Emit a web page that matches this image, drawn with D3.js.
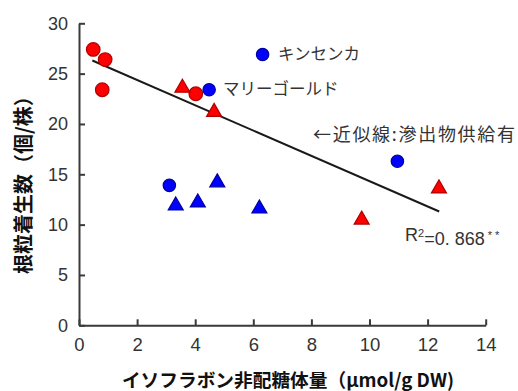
<!DOCTYPE html>
<html lang="ja">
<head>
<meta charset="UTF-8">
<script src="https://d3js.org/d3.v7.min.js"></script>
<style>
  body { margin: 0; background: #fff; }
  .axis path, .axis line { stroke: #3a3a3a; stroke-width: 2px; }
  .axis text { font-family: "Liberation Sans", Arial, sans-serif; fill: #333; }
  .note { font-family: "Noto Sans CJK JP", sans-serif; fill: #333; }
  .title { font-family: "Noto Sans CJK JP", sans-serif; font-weight: bold; fill: #111; }
</style>
</head>
<body>
<svg width="518" height="391"></svg>
<script>
  // values
  var xTicks = [0, 2, 4, 6, 8, 10, 12, 14];
  var yTicks = [0, 5, 10, 15, 20, 25, 30];

  var redCircleX = [0.49, 0.90, 0.80, 4.02];
  var redCircleY = [27.4, 26.4, 23.4, 23.0];

  var redTriX = [3.56, 4.65, 9.73, 12.39];
  var redTriY = [23.8, 21.4, 10.7, 13.8];

  var blueCircleX = [4.48, 6.32, 10.96, 3.11];
  var blueCircleY = [23.4, 26.9, 16.3, 13.9];

  var blueTriX = [3.33, 4.09, 4.76, 6.21];
  var blueTriY = [12.1, 12.4, 14.4, 11.8];

  // fitted line (exudate supplied)
  var fitSlope = -1.256;
  var fitIntercept = 26.88;
  var fitRange = [0.46, 12.4];

  var svg = d3.select("svg");

  var x = d3.scaleLinear().domain([0, 14]).range([79, 485.7]);
  var y = d3.scaleLinear().domain([0, 30]).range([325.3, 23.3]);

  var xAxis = svg.append("g")
    .attr("class", "axis")
    .attr("transform", "translate(0," + y(0) + ")")
    .call(d3.axisBottom(x).tickValues(xTicks).tickSizeInner(-6).tickSizeOuter(0).tickPadding(13));
  xAxis.selectAll("text").style("font-size", "18.5px");

  var yAxis = svg.append("g")
    .attr("class", "axis")
    .attr("transform", "translate(" + x(0) + ",0)")
    .call(d3.axisLeft(y).tickValues(yTicks).tickSizeInner(-6).tickSizeOuter(0).tickPadding(11));
  yAxis.selectAll("text").style("font-size", "18px");

  // regression line
  svg.append("line")
    .attr("x1", x(fitRange[0]))
    .attr("y1", y(fitIntercept + fitSlope * fitRange[0]))
    .attr("x2", x(fitRange[1]))
    .attr("y2", y(fitIntercept + fitSlope * fitRange[1]))
    .attr("stroke", "#1a1a1a")
    .attr("stroke-width", 2);

  function pairs(xs, ys) {
    return xs.map(function (v, i) { return [v, ys[i]]; });
  }

  function triangle(w, h) {
    return "M0," + (-h / 2) + "L" + (w / 2) + "," + (h / 2) + "L" + (-w / 2) + "," + (h / 2) + "Z";
  }

  function drawCircles(data, fill, stroke, r) {
    svg.append("g").selectAll("circle")
      .data(data)
      .enter().append("circle")
      .attr("cx", function (d) { return x(d[0]); })
      .attr("cy", function (d) { return y(d[1]); })
      .attr("r", r)
      .attr("fill", fill)
      .attr("stroke", stroke)
      .attr("stroke-width", 1.2);
  }

  function drawTriangles(data, fill, stroke) {
    svg.append("g").selectAll("path")
      .data(data)
      .enter().append("path")
      .attr("d", triangle(15, 13))
      .attr("transform", function (d) { return "translate(" + x(d[0]) + "," + y(d[1]) + ")"; })
      .attr("fill", fill)
      .attr("stroke", stroke)
      .attr("stroke-width", 1.2);
  }

  drawCircles(pairs(redCircleX, redCircleY), "#ff0000", "#b00000", 6.8);
  drawCircles(pairs(blueCircleX, blueCircleY), "#0000ff", "#0000a0", 6.2);
  drawTriangles(pairs(redTriX, redTriY), "#ff0000", "#b00000");
  drawTriangles(pairs(blueTriX, blueTriY), "#0000ff", "#0000a0");

  // annotations
  svg.append("text").attr("class", "note")
    .attr("x", 278).attr("y", 54).attr("dy", "0.36em")
    .style("font-size", "16.5px")
    .text("キンセンカ");

  svg.append("text").attr("class", "note")
    .attr("x", 223).attr("y", 89).attr("dy", "0.36em")
    .style("font-size", "16.5px")
    .text("マリーゴールド");

  svg.append("text").attr("class", "note")
    .attr("x", 313).attr("y", 135).attr("dy", "0.36em")
    .attr("textLength", 202)
    .style("font-size", "18px")
    .text("←近似線:滲出物供給有");

  var r2 = svg.append("text").attr("class", "note")
    .attr("x", 405).attr("y", 235).attr("dy", "0.36em")
    .style("font-family", "\"Liberation Sans\", Arial, sans-serif")
    .style("font-size", "18px");
  r2.append("tspan").text("R");
  r2.append("tspan").attr("dy", "-0.45em").style("font-size", "11px").text("2");
  r2.append("tspan").attr("dy", "0.45em").text("=0. 868");
  r2.append("tspan").attr("dy", "-0.5em").attr("dx", "3").style("font-size", "11px").text("* *");

  // axis titles
  svg.append("text").attr("class", "title")
    .attr("x", 288).attr("y", 380).attr("dy", "0.36em")
    .attr("text-anchor", "middle")
    .style("font-size", "18.7px")
    .text("イソフラボン非配糖体量（μmol/g DW)");

  svg.append("text").attr("class", "title")
    .attr("transform", "translate(24,180) rotate(-90)")
    .attr("dy", "0.36em")
    .attr("text-anchor", "middle")
    .style("font-size", "20px")
    .text("根粒着生数（個/株）");
</script>
</body>
</html>
